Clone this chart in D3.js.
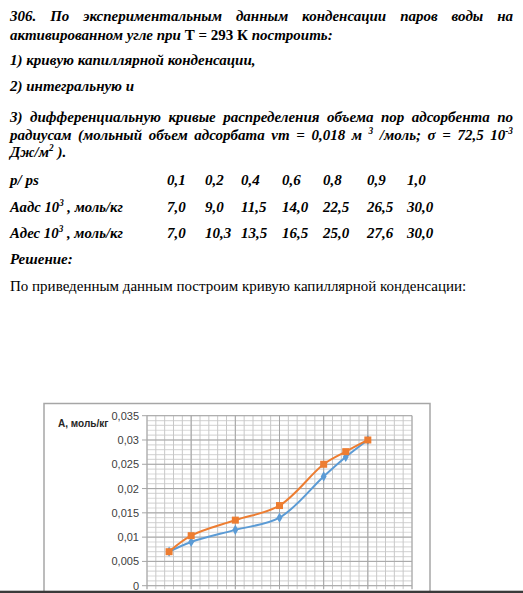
<!DOCTYPE html>
<html>
<head>
<meta charset="utf-8">
<script src="https://cdn.jsdelivr.net/npm/d3@7"></script>
<style>
  body { margin: 0; background: #fff; }
  svg { display: block; }
</style>
</head>
<body>
<div id="page"></div>
<script>
// data from the problem table (A values are in 10^-3 mol/kg)
var pRatio = [0.1, 0.2, 0.4, 0.6, 0.8, 0.9, 1.0];
var aAds = [7.0, 9.0, 11.5, 14.0, 22.5, 26.5, 30.0];
var aDes = [7.0, 10.3, 13.5, 16.5, 25.0, 27.6, 30.0];
var yTicks = [0, 0.005, 0.01, 0.015, 0.02, 0.025, 0.03, 0.035];
var yLabel = "A, моль/кг";

var svgWidth = 523;
var svgHeight = 593;

var svg = d3.select("#page")
  .append("svg")
  .attr("width", svgWidth)
  .attr("height", svgHeight);

var serif = "'Liberation Serif', 'Times New Roman', serif";
var fs = 15;

// helper: one word made of segments, superscripts marked
function addWord(g, segs, y, italic) {
  var t = g.append("text")
    .attr("y", y)
    .attr("font-family", serif)
    .attr("font-size", fs)
    .attr("font-weight", "700")
    .attr("font-style", italic ? "italic" : "normal")
    .attr("fill", "#000");
  var up = false;
  segs.forEach(function(s) {
    var sp = t.append("tspan").text(s.t);
    if (s.sup && !up) { sp.attr("dy", -6).attr("font-size", fs * 0.62); up = true; }
    else if (s.sup) { sp.attr("font-size", fs * 0.62); }
    else if (up) { sp.attr("dy", 6); up = false; }
  });
  return t;
}

// justified line: words spread between x0 and x1
function justLine(words, y, x0, x1) {
  var g = svg.append("g");
  var els = words.map(function(w) {
    var segs = typeof w === "string" ? [{t: w}] : w;
    return addWord(g, segs, y, true);
  });
  var widths = els.map(function(e) { return e.node().getComputedTextLength(); });
  var gap = (x1 - x0 - d3.sum(widths)) / (els.length - 1);
  var x = x0;
  els.forEach(function(e, i) { e.attr("x", x); x += widths[i] + gap; });
}

function plainLine(str, y, bold, italic) {
  return svg.append("text")
    .attr("x", 10)
    .attr("y", y)
    .attr("font-family", serif)
    .attr("font-size", fs)
    .attr("font-weight", bold ? "700" : "400")
    .attr("font-style", italic ? "italic" : "normal")
    .text(str);
}

// task text
justLine("306. По экспериментальным данным конденсации паров воды на".split(" "), 20.7, 10, 513);
var l2 = plainLine("", 39.5, true, true);
l2.append("tspan").text("активированном угле при ");
l2.append("tspan").attr("font-style", "normal").text("Т = 293 К");
l2.append("tspan").text(" построить:");
plainLine("1) кривую капиллярной конденсации,", 65, true, true);
plainLine("2) интегральную и", 90.5, true, true);
justLine("3) дифференциальную кривые распределения объема пор адсорбента по".split(" "), 122, 10, 513);
justLine(["радиусам", "(мольный", "объем", "адсорбата", "vm", "=", "0,018", "м",
  [{t: "3", sup: true}], "/моль;", "σ", "=", "72,5", [{t: "10"}, {t: "-3", sup: true}]], 139.5, 10, 513);
var l7 = plainLine("", 156.5, true, true);
l7.append("tspan").text("Дж/м");
l7.append("tspan").attr("dy", -6).attr("font-size", fs * 0.62).text("2");
l7.append("tspan").attr("dy", 6).text(" ).");

// data table
var colX = [167, 205, 241, 282, 323, 367, 407];
var fmt1 = function(d) { return d.toFixed(1).replace(".", ","); };
var rows = [
  {y: 185, label: [{t: "p/ ps"}], w: 0, vals: pRatio},
  {y: 211.5, label: [{t: "Аадс 10"}, {t: "3", sup: true}, {t: " , моль/кг"}], w: 113, vals: aAds},
  {y: 238, label: [{t: "Адес 10"}, {t: "3", sup: true}, {t: " , моль/кг"}], w: 113, vals: aDes}
];
rows.forEach(function(r) {
  var g = svg.append("g");
  var lab = addWord(g, r.label, r.y, true).attr("x", 10);
  if (r.w) lab.attr("textLength", r.w).attr("lengthAdjust", "spacingAndGlyphs");
  g.selectAll("text.val")
    .data(r.vals)
    .enter()
    .append("text")
    .attr("class", "val")
    .attr("x", function(d, i) { return colX[i]; })
    .attr("y", r.y)
    .attr("font-family", serif)
    .attr("font-size", fs)
    .attr("font-weight", "700")
    .attr("font-style", "italic")
    .text(fmt1);
});
plainLine("Решение:", 263.5, true, true);
plainLine("По приведенным данным построим кривую капиллярной конденсации:", 290.5, false, false);

// chart frame
svg.append("rect")
  .attr("x", 44)
  .attr("y", 403.5)
  .attr("width", 386)
  .attr("height", 220)
  .attr("fill", "none")
  .attr("stroke", "#a6a6a6")
  .attr("stroke-width", 1.5);

var xScale = d3.scaleLinear().domain([0, 1.2]).range([147, 412]);
var yScale = d3.scaleLinear().domain([0, 0.035]).range([585.7, 415.7]);

var grid = svg.append("g");
var xMinor = d3.range(0, 31).map(function(i) { return i * 0.04; });
var yMinor = d3.range(0, 36).map(function(i) { return i * 0.001; });

grid.selectAll("line.hmin")
  .data(yMinor)
  .enter()
  .append("line")
  .attr("x1", xScale(0)).attr("x2", xScale(1.2))
  .attr("y1", d => yScale(d)).attr("y2", d => yScale(d))
  .attr("stroke", "#d9d9d9")
  .attr("stroke-width", 1.2);

grid.selectAll("line.vmin")
  .data(xMinor)
  .enter()
  .append("line")
  .attr("x1", d => xScale(d)).attr("x2", d => xScale(d))
  .attr("y1", yScale(0.035)).attr("y2", yScale(0) + 3.5)
  .attr("stroke", "#c8c8c8")
  .attr("stroke-width", 1);

grid.selectAll("line.hmaj")
  .data(yTicks)
  .enter()
  .append("line")
  .attr("x1", xScale(0) - 5).attr("x2", xScale(1.2))
  .attr("y1", d => yScale(d)).attr("y2", d => yScale(d))
  .attr("stroke", "#a6a6a6")
  .attr("stroke-width", 1);

grid.selectAll("line.vmaj")
  .data(d3.range(0, 7).map(function(i) { return i * 0.2; }))
  .enter()
  .append("line")
  .attr("x1", d => xScale(d)).attr("x2", d => xScale(d))
  .attr("y1", yScale(0.035)).attr("y2", yScale(0) + 3.5)
  .attr("stroke", "#a6a6a6")
  .attr("stroke-width", 1);

// y axis labels
var leftAxis = d3.axisLeft(yScale)
  .tickValues(yTicks)
  .tickSize(0)
  .tickPadding(8)
  .tickFormat(d => String(+d.toFixed(3)).replace(".", ","));

var yAxisG = svg.append("g")
  .attr("transform", `translate(${xScale(0)}, 0)`)
  .call(leftAxis);
yAxisG.select(".domain").remove();
yAxisG.selectAll("text")
  .attr("font-family", "'Liberation Sans', Arial, sans-serif")
  .attr("font-size", "11px")
  .attr("fill", "#404040");

svg.append("text")
  .attr("x", 58)
  .attr("y", 427)
  .attr("font-family", "'Liberation Sans', Arial, sans-serif")
  .attr("font-size", "10px")
  .attr("font-weight", "700")
  .attr("fill", "#262626")
  .text(yLabel);

// curves
var line = d3.line()
  .x(d => xScale(d.x))
  .y(d => yScale(d.y))
  .curve(d3.curveCatmullRom.alpha(0.5));

var adsPts = pRatio.map((p, i) => ({x: p, y: aAds[i] / 1000}));
var desPts = pRatio.map((p, i) => ({x: p, y: aDes[i] / 1000}));

svg.append("path")
  .attr("d", line(adsPts))
  .attr("fill", "none")
  .attr("stroke", "#5b9bd5")
  .attr("stroke-width", 2);

svg.append("g").selectAll("path")
  .data(adsPts)
  .enter()
  .append("path")
  .attr("d", d3.symbol().type(d3.symbolDiamond).size(30))
  .attr("transform", d => `translate(${xScale(d.x)}, ${yScale(d.y)})`)
  .attr("fill", "#5b9bd5");

svg.append("path")
  .attr("d", line(desPts))
  .attr("fill", "none")
  .attr("stroke", "#ed7d31")
  .attr("stroke-width", 2);

svg.append("g").selectAll("rect")
  .data(desPts)
  .enter()
  .append("rect")
  .attr("x", d => xScale(d.x) - 3.5)
  .attr("y", d => yScale(d.y) - 3.5)
  .attr("width", 7)
  .attr("height", 7)
  .attr("fill", "#ed7d31");

// dark strip at page bottom
svg.append("rect")
  .attr("x", 0)
  .attr("y", 590.7)
  .attr("width", svgWidth)
  .attr("height", 3)
  .attr("fill", "#3a3a3a");
</script>
</body>
</html>
